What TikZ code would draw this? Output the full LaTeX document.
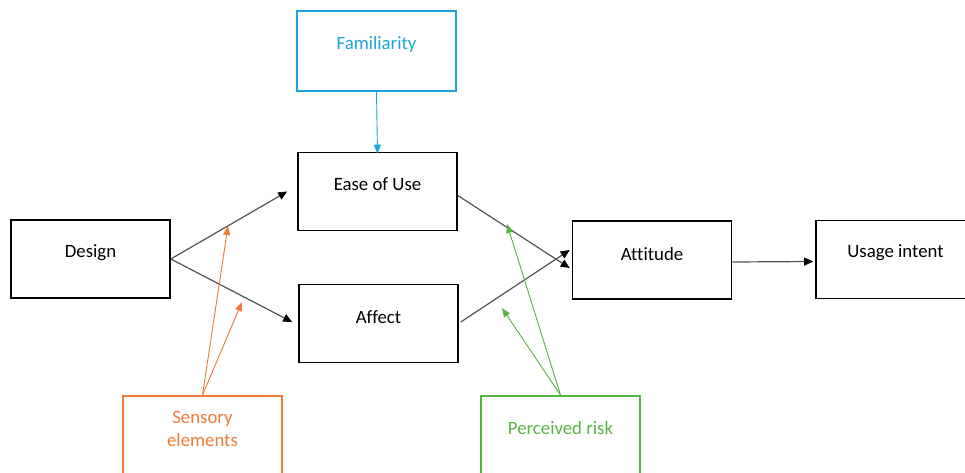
\documentclass[tikz,border=0pt]{standalone}
\usepackage{fontspec}
\setmainfont{Carlito}[Ligatures={NoCommon}]
\usetikzlibrary{arrows.meta}

\definecolor{famblue}{HTML}{1DA3DB}
\definecolor{sensorange}{HTML}{EE7A3A}
\definecolor{riskgreen}{HTML}{5AB245}

\tikzset{
  box/.style={draw=black, line width=1.6pt, minimum width=159pt, minimum height=78pt, inner sep=0pt},
  cbox/.style={draw=#1, line width=1.8pt, minimum width=159pt, minimum height=80pt, inner sep=0pt},
  lbl/.style={font=\fontsize{18.8}{23}\selectfont, align=center, inner sep=0pt},
  flow/.style={draw=black!68, line width=1.2pt, arrows={-{Triangle[length=9pt,width=8pt,fill=black,color=black]}}},
  hint/.style={draw=#1, line width=0.9pt, -{Triangle[length=9pt,width=7pt,fill=#1]}}
}

\begin{document}
\begin{tikzpicture}[x=1pt, y=-1pt]
  \useasboundingbox (0,0) rectangle (965,472);

  % main boxes
  \node[box] (design)   at (90.5,259)  {};
  \node[box] (ease)     at (377.5,191.5) {};
  \node[box] (affect)   at (378.5,323.5) {};
  \node[box] (attitude) at (652,260)   {};
  \node[box] (usage)    at (895.5,259.5) {};

  % moderator boxes
  \node[cbox=famblue]    (fam)   at (376.5,51)  {};
  \node[cbox=sensorange] (sens)  at (202.5,436) {};
  \node[cbox=riskgreen]  (risk)  at (560.5,436) {};

  % captions
  \node[lbl] (tdesign)   at (90.5,253)  {Design};
  \node[lbl] (tease)     at (377.5,184) {Ease of Use};
  \node[lbl] (taffect)   at (378.5,317) {Affect};
  \node[lbl] (tattitude) at (652,254)   {Attitude};
  \node[lbl] (tusage)    at (895.5,253) {Usage intent};
  \node[lbl, text=famblue]    (tfam)  at (376.5,44)  {Familiarity};
  \node[lbl, text=sensorange] (tsens) at (202.5,428.5) {Sensory\\elements};
  \node[lbl, text=riskgreen]  (trisk) at (560.5,428)   {Perceived risk};

  % main paths
  \draw[flow] (design.east) -- ([xshift=-10pt,yshift=0pt]ease.west);
  \draw[flow] (design.east) -- ([xshift=-6pt,yshift=1.5pt]affect.west);
  \draw[flow] ([yshift=-4pt]ease.east) -- ([xshift=-2pt,yshift=-8pt]attitude.west);
  \draw[flow] ([xshift=2pt,yshift=1.5pt]affect.east) -- ([xshift=-2pt,yshift=10pt]attitude.west);
  \draw[flow] ([yshift=-2pt]attitude.east) -- ([xshift=-2pt,yshift=-2pt]usage.west);

  % moderating influences
  \coordinate (sensA) at (228,226);
  \coordinate (sensB) at (242,302);
  \coordinate (riskA) at (507,224);
  \coordinate (riskB) at (502,308);

  \draw[hint=famblue] (fam.south) -- ([yshift=-2pt]ease.north);
  \draw[hint=sensorange] (sens.north) -- (sensA);
  \draw[hint=sensorange] (sens.north) -- (sensB);
  \draw[hint=riskgreen] (risk.north) -- (riskA);
  \draw[hint=riskgreen] (risk.north) -- (riskB);
\end{tikzpicture}
\end{document}
